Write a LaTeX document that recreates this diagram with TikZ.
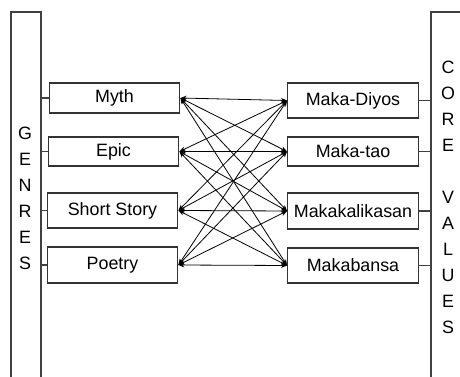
\documentclass[tikz,border=0pt]{standalone}
\usepackage{fontspec}
\setmainfont{Liberation Sans}
\usetikzlibrary{arrows.meta, positioning}

\begin{document}
\begin{tikzpicture}[
            x=0.75pt, y=-0.75pt,
            font=\fontsize{13.4}{19.5}\selectfont,
            bar/.style={draw=black!75, line width=0.8pt, minimum width=22.5pt, minimum height=285pt, inner sep=0pt},
            letters/.style={align=center, inner sep=0pt},
            box/.style={draw=black!80, line width=0.9pt, inner sep=0pt, minimum width=98pt},
            tick/.style={draw=black!75, line width=0.8pt},
            link/.style={{Stealth[length=4.5pt,width=3.6pt]}-{Stealth[length=4.5pt,width=3.6pt]}, line width=0.6pt, black}
        ]
            \useasboundingbox (0,0) rectangle (460,377);
            \clip (0,0) rectangle (460,377);

            \node[bar] (genres) at (26,202) {};
            \node[bar, minimum width=30pt] (values) at (451,202) {};
            \node[letters] (genrestext) at (25,198) {G\\E\\N\\R\\E\\S};
            \node[letters] (valuestext) at (448,197.5) {C\\O\\R\\E\\{}\\V\\A\\L\\U\\E\\S};

            \node[box, minimum height=22.5pt] (myth) at (114.5,98) {Myth};
            \node[box, minimum height=21.75pt] (epic) at (113.5,151.5) {Epic};
            \node[box, minimum height=26.25pt] (story) at (112.5,210.5) {Short Story};
            \node[box, minimum height=27pt] (poetry) at (112.5,265) {Poetry};

            \node[box, minimum height=26.25pt] (diyos) at (353,100.5) {Maka-Diyos};
            \node[box, minimum height=21.75pt] (tao) at (353,151.5) {Maka-tao};
            \node[box, minimum height=27pt] (kalikasan) at (353,211) {Makakalikasan};
            \node[box, minimum height=26.25pt] (bansa) at (353,265.5) {Makabansa};

            \foreach \g in {myth, epic, story, poetry}
                \draw[tick] (genres.east |- \g.west) -- (\g.west);
            \foreach \v in {diyos, tao, kalikasan, bansa}
                \draw[tick] (\v.east) -- (values.west |- \v.east);

            \foreach \g in {myth, epic, story, poetry}
                \foreach \v in {diyos, tao, kalikasan, bansa}
                    \draw[link] (\g.east) -- (\v.west);
        \end{tikzpicture}
\end{document}
